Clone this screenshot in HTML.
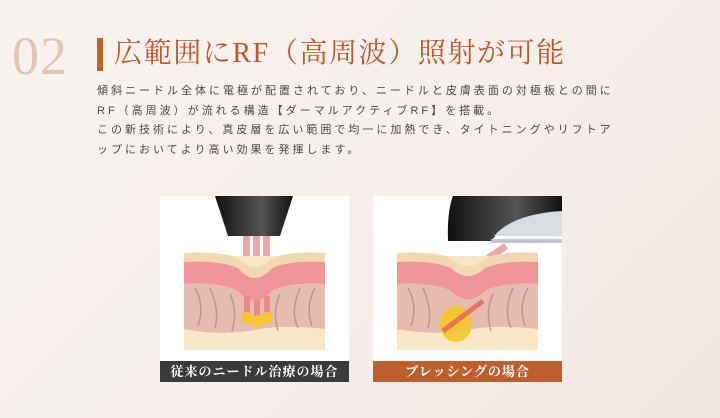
<!DOCTYPE html>
<html><head><meta charset="utf-8"><style>
body{margin:0;width:720px;height:418px;overflow:hidden;background:linear-gradient(135deg,#f8f3f0 0%,#f6efeb 50%,#f1e7e2 100%);font-family:"Liberation Serif","Noto Serif CJK SC",serif;position:relative}
.num{position:absolute;left:12px;top:26px;font-size:54px;color:#e3c4b6;font-family:"Liberation Serif",serif;letter-spacing:1px;line-height:60px}
.bar{position:absolute;left:97px;top:38px;width:6px;height:33px;background:#c15f2e}
.title{position:absolute;left:114px;top:32px;font-size:28px;color:#b9592b;line-height:44px;letter-spacing:1.6px;white-space:nowrap}
.txt{position:absolute;left:97px;top:82px;font-family:"Liberation Sans","Noto Sans CJK JP",sans-serif;font-size:11px;color:#4a4a4a;line-height:19.5px;letter-spacing:3px;white-space:nowrap}
.panel{position:absolute;top:196px;width:189px;height:165px;background:#fff}
.lab{position:absolute;top:361px;width:189px;height:21px;color:#fff;font-size:13px;line-height:21px;text-align:center;letter-spacing:1px;font-weight:bold}
</style></head><body>
<div class="num">02</div>
<div class="bar"></div>
<div class="title">広範囲にRF（高周波）照射が可能</div>
<div class="txt">傾斜ニードル全体に電極が配置されており、ニードルと皮膚表面の対極板との間に<br>RF（高周波）が流れる構造【ダーマルアクティブRF】を搭載。<br>この新技術により、真皮層を広い範囲で均一に加熱でき、タイトニングやリフトア<br>ップにおいてより高い効果を発揮します。</div>

<div class="panel" style="left:160px">
<svg width="189" height="165">
<defs><linearGradient id="g1" x1="0" x2="1"><stop offset="0" stop-color="#111"/><stop offset=".6" stop-color="#555"/><stop offset="1" stop-color="#111"/></linearGradient></defs>
<polygon points="55,0 133,0 120,40 68,40" fill="url(#g1)"/>
<g fill="#e89a9a" opacity=".85"><rect x="83" y="40" width="7" height="33"/><rect x="93" y="40" width="7" height="40"/><rect x="103" y="40" width="7" height="33"/></g>
<path d="M24,60 L165,60 L165,154 L24,154Z" fill="#f7e7c7"/>
<path d="M24,57 Q60,55 78,62 Q95,80 112,62 Q130,55 165,57 L165,66 Q130,64 112,72 Q95,92 78,72 Q60,64 24,66Z" fill="#f2d8b2"/>
<path d="M24,66 Q60,64 78,72 Q95,92 112,72 Q130,64 165,66 L165,88 Q130,86 112,95 Q95,115 78,95 Q60,86 24,88Z" fill="#f0969a"/>
<path d="M24,88 Q60,86 78,95 Q95,115 112,95 Q130,86 165,88 L165,133 Q120,128 95,134 Q60,140 24,133Z" fill="#e6bcb0"/>
<g stroke="#9a8c8c" stroke-width="1.5" fill="none" opacity=".7"><path d="M35,92 Q45,110 38,130"/><path d="M50,92 Q60,115 55,132"/><path d="M140,92 Q130,115 138,132"/><path d="M155,92 Q145,110 152,130"/><path d="M70,98 Q78,115 72,135"/><path d="M120,98 Q112,115 118,135"/></g>
<g fill="#e88a8a"><rect x="84" y="100" width="6" height="18"/><rect x="94" y="104" width="6" height="18"/><rect x="104" y="100" width="6" height="18"/></g>
<g fill="#f7c630"><circle cx="87" cy="122" r="6"/><circle cx="97" cy="125" r="6"/><circle cx="107" cy="122" r="6"/></g>
</svg></div>
<div class="lab" style="left:160px;background:#3b3a3c">従来のニードル治療の場合</div>

<div class="panel" style="left:373px">
<svg width="189" height="165">
<path d="M75,0 L189,0 L189,20 Q140,18 118,45 L75,45 Q74,15 80,0Z" fill="url(#g1)"/>
<path d="M121,40 Q140,18 189,15 L189,40Z" fill="#d8dde2"/>
<rect x="118" y="43" width="71" height="4" fill="#c0c6cc"/>
<line x1="133" y1="50" x2="110" y2="66" stroke="#e89a9a" stroke-width="7" opacity=".85"/>
<path d="M24,60 L165,60 L165,154 L24,154Z" fill="#f7e7c7"/>
<path d="M24,57 Q60,55 78,62 Q95,78 112,62 Q130,55 165,57 L165,66 Q130,64 112,72 Q95,88 78,72 Q60,64 24,66Z" fill="#f2d8b2"/>
<path d="M24,66 Q60,64 78,72 Q95,88 112,72 Q130,64 165,66 L165,88 Q130,86 112,95 Q95,112 78,95 Q60,86 24,88Z" fill="#f0969a"/>
<path d="M24,88 Q60,86 78,95 Q95,112 112,95 Q130,86 165,88 L165,133 Q120,128 95,134 Q60,140 24,133Z" fill="#e6bcb0"/>
<g stroke="#9a8c8c" stroke-width="1.5" fill="none" opacity=".7"><path d="M35,92 Q45,110 38,130"/><path d="M50,92 Q60,115 55,132"/><path d="M140,92 Q130,115 138,132"/><path d="M155,92 Q145,110 152,130"/><path d="M120,98 Q112,115 118,135"/></g>
<ellipse cx="83" cy="128" rx="16" ry="18" fill="#f5c52a" opacity=".9"/>
<line x1="110" y1="105" x2="70" y2="135" stroke="#e8605a" stroke-width="5" opacity=".8"/>
</svg></div>
<div class="lab" style="left:373px;background:#bf5f2f">ブレッシングの場合</div>
</body></html>
